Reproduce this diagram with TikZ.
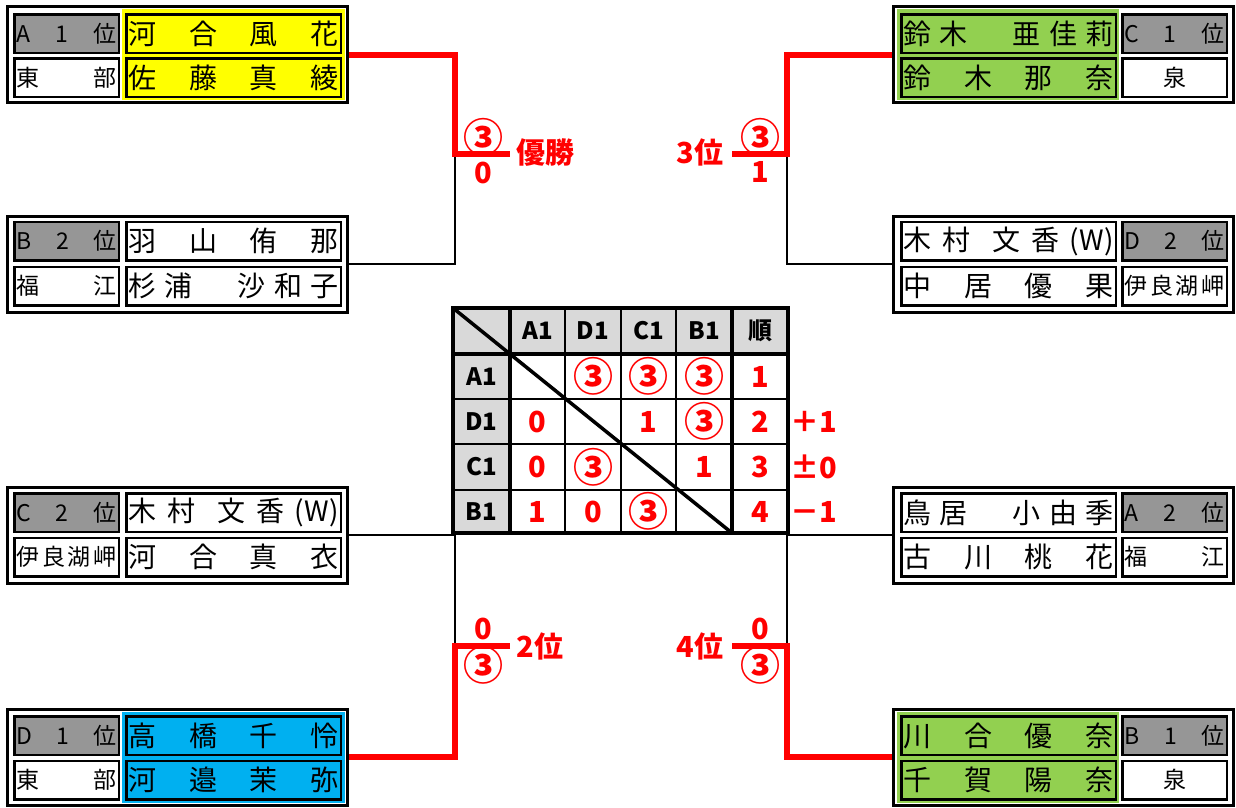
\documentclass[tikz,border=0pt]{standalone}
\usepackage{fontspec}
\setmainfont{Noto Sans CJK JP}
\usepackage{tikz}

\definecolor{rankgray}{HTML}{969696}
\definecolor{hdrgray}{HTML}{D9D9D9}
\definecolor{clubyellow}{HTML}{FFFF00}
\definecolor{clubgreen}{HTML}{92D050}
\definecolor{clubblue}{HTML}{00B0F0}
\definecolor{scorered}{HTML}{FF0000}

\newcommand{\namesize}{\fontsize{28}{28}\selectfont}
\newcommand{\ranksize}{\fontsize{23}{23}\selectfont}
\newcommand{\scoresize}{\fontsize{29}{29}\selectfont\bfseries}
\newcommand{\hdrsize}{\fontsize{24}{24}\selectfont\bfseries}
\newcommand{\cthree}{{\fontsize{40}{40}\selectfont ③}}
\newcommand{\spreadname}[1]{\hbox to 210pt{#1}}
\newcommand{\spreadrank}[1]{\hbox to 100pt{#1}}

\tikzset{
  boxframe/.style={draw, line width=3pt, fill=white, minimum width=340pt, minimum height=96pt, inner sep=0pt},
  pcell/.style={draw, line width=2.5pt, minimum height=38.5pt, inner sep=0pt},
  rankcell/.style={pcell, minimum width=104.5pt, font=\ranksize},
  namecell/.style={pcell, minimum width=214.5pt, font=\namesize},
  win/.style={draw=scorered, line width=6pt},
  lose/.style={draw, line width=2pt},
  score/.style={text=scorered, font=\scoresize, inner sep=0pt},
  hdr/.style={font=\hdrsize, inner sep=0pt},
  tblline/.style={line width=2.5pt},
  tblheavy/.style={line width=3.5pt}
}

\begin{document}
\begin{tikzpicture}[x=1pt,y=-1pt]
\useasboundingbox (0,0) rectangle (1236,807);

% left side
\node[boxframe] (a1) at (177,54.5) {};
\fill[clubyellow] (122,9) rectangle (345,100);
\node[rankcell, fill=rankgray] (a1r) at (66.5,33.5) {\spreadrank{A\hfill 1\hfill 位}};
\node[rankcell] (a1h) at (66.5,77.5) {\spreadrank{東\hfill 部}};
\node[namecell, fill=clubyellow] (a1p) at (233.5,33.5) {\spreadname{河\hfill 合\hfill 風\hfill 花}};
\node[namecell, fill=clubyellow] (a1q) at (233.5,77.5) {\spreadname{佐\hfill 藤\hfill 真\hfill 綾}};

\node[boxframe] (b2) at (177,264) {};
\node[rankcell, fill=rankgray] (b2r) at (66.5,241) {\spreadrank{B\hfill 2\hfill 位}};
\node[rankcell] (b2h) at (66.5,286) {\spreadrank{福\hfill 江}};
\node[namecell] (b2p) at (233.5,241) {\spreadname{羽\hfill 山\hfill 侑\hfill 那}};
\node[namecell] (b2q) at (233.5,286) {\spreadname{杉\hfill 浦\hfill 　\hfill 沙\hfill 和\hfill 子}};

\node[boxframe] (c2) at (177,535) {};
\node[rankcell, fill=rankgray] (c2r) at (66.5,512.5) {\spreadrank{C\hfill 2\hfill 位}};
\node[rankcell] (c2h) at (66.5,557) {\spreadrank{伊\hfill 良\hfill 湖\hfill 岬}};
\node[namecell] (c2p) at (233.5,512.5) {\spreadname{木\hfill 村\hfill\hfill 文\hfill 香\hfill(W)}};
\node[namecell] (c2q) at (233.5,557) {\spreadname{河\hfill 合\hfill 真\hfill 衣}};

\node[boxframe] (d1) at (177,757) {};
\fill[clubblue] (122,712) rectangle (345,803);
\node[rankcell, fill=rankgray] (d1r) at (66.5,735.5) {\spreadrank{D\hfill 1\hfill 位}};
\node[rankcell] (d1h) at (66.5,780) {\spreadrank{東\hfill 部}};
\node[namecell, fill=clubblue] (d1p) at (233.5,735.5) {\spreadname{高\hfill 橋\hfill 千\hfill 怜}};
\node[namecell, fill=clubblue] (d1q) at (233.5,780) {\spreadname{河\hfill 邉\hfill 茉\hfill 弥}};

% right side
\node[boxframe] (c1) at (1063,54.5) {};
\fill[clubgreen] (897,9) rectangle (1119,100);
\node[namecell, fill=clubgreen] (c1p) at (1008.5,33.5) {\spreadname{鈴\hfill 木\hfill 　\hfill 亜\hfill 佳\hfill 莉}};
\node[namecell, fill=clubgreen] (c1q) at (1008.5,77.5) {\spreadname{鈴\hfill 木\hfill 那\hfill 奈}};
\node[rankcell, fill=rankgray] (c1r) at (1174.5,33.5) {\spreadrank{C\hfill 1\hfill 位}};
\node[rankcell] (c1h) at (1174.5,77.5) {泉};

\node[boxframe] (d2) at (1063,264) {};
\node[namecell] (d2p) at (1008.5,241) {\spreadname{木\hfill 村\hfill\hfill 文\hfill 香\hfill(W)}};
\node[namecell] (d2q) at (1008.5,286) {\spreadname{中\hfill 居\hfill 優\hfill 果}};
\node[rankcell, fill=rankgray] (d2r) at (1174.5,241) {\spreadrank{D\hfill 2\hfill 位}};
\node[rankcell] (d2h) at (1174.5,286) {\spreadrank{伊\hfill 良\hfill 湖\hfill 岬}};

\node[boxframe] (a2) at (1063,535) {};
\node[namecell] (a2p) at (1008.5,512.5) {\spreadname{鳥\hfill 居\hfill 　\hfill 小\hfill 由\hfill 季}};
\node[namecell] (a2q) at (1008.5,557) {\spreadname{古\hfill 川\hfill 桃\hfill 花}};
\node[rankcell, fill=rankgray] (a2r) at (1174.5,512.5) {\spreadrank{A\hfill 2\hfill 位}};
\node[rankcell] (a2h) at (1174.5,557) {\spreadrank{福\hfill 江}};

\node[boxframe] (b1) at (1063,757) {};
\fill[clubgreen] (897,712) rectangle (1119,803);
\node[namecell, fill=clubgreen] (b1p) at (1008.5,735.5) {\spreadname{川\hfill 合\hfill 優\hfill 奈}};
\node[namecell, fill=clubgreen] (b1q) at (1008.5,780) {\spreadname{千\hfill 賀\hfill 陽\hfill 奈}};
\node[rankcell, fill=rankgray] (b1r) at (1174.5,735.5) {\spreadrank{B\hfill 1\hfill 位}};
\node[rankcell] (b1h) at (1174.5,780) {泉};

% bracket
\coordinate (fin1) at (455,154);
\coordinate (fin1e) at (510,154);
\coordinate (fin2) at (787,154);
\coordinate (fin2e) at (732,154);
\coordinate (sf1) at (455,646);
\coordinate (sf1e) at (510,646);
\coordinate (sf2) at (787,646);
\coordinate (sf2e) at (732,646);

\draw[lose] (fin1) |- (b2.east);
\draw[lose] (fin2) |- (d2.west);
\draw[lose] (c2.east) -| (sf1);
\draw[lose] (a2.west) -| (sf2);
\draw[win] (a1.east) -| (fin1) -- (fin1e);
\draw[win] (c1.west) -| (fin2) -- (fin2e);
\draw[win] (sf1e) -- (sf1) |- (d1.east);
\draw[win] (sf2e) -- (sf2) |- (b1.west);

\node[score] (f1w) at (483,137) {\cthree};
\node[score] (f1l) at (483,173) {0};
\node[score] (f1t) at (545,153) {優勝};
\node[score] (f2w) at (760,137) {\cthree};
\node[score] (f2l) at (760,172) {1};
\node[score] (f2t) at (700,152) {3位};
\node[score] (s1l) at (483,629) {0};
\node[score] (s1w) at (483,665) {\cthree};
\node[score] (s1t) at (540,646) {2位};
\node[score] (s2l) at (760,629) {0};
\node[score] (s2w) at (760,665) {\cthree};
\node[score] (s2t) at (700,646) {4位};

% league table
\fill[white] (453,308) rectangle (788,533);
\fill[hdrgray] (453,308) rectangle (788,354);
\fill[hdrgray] (453,354) rectangle (510,533);
\draw[tblline] (565,308) -- (565,533) (621,308) -- (621,533) (676,308) -- (676,533);
\draw[tblline] (453,399) -- (788,399) (453,444) -- (788,444) (453,490) -- (788,490);
\draw[tblheavy] (510,308) -- (510,533) (732,308) -- (732,533) (453,354) -- (788,354);
\draw[tblheavy] (453,308) -- (510,354);
\draw[tblheavy] (510,354) -- (732,533);
\draw[tblheavy] (453,308) rectangle (788,533);

\node[hdr] (hA) at (537.5,331) {A1};
\node[hdr] (hD) at (593,331) {D1};
\node[hdr] (hC) at (648.5,331) {C1};
\node[hdr] (hB) at (704,331) {B1};
\node[hdr] (hR) at (760,331) {順};
\node[hdr] (rA) at (481.5,376.5) {A1};
\node[hdr] (rD) at (481.5,421.5) {D1};
\node[hdr] (rC) at (481.5,467) {C1};
\node[hdr] (rB) at (481.5,511.5) {B1};

\node[score] (sAD) at (593,376.5) {\cthree};
\node[score] (sAC) at (648.5,376.5) {\cthree};
\node[score] (sAB) at (704,376.5) {\cthree};
\node[score] (pA) at (760,376.5) {1};
\node[score] (sDA) at (537.5,421.5) {0};
\node[score] (sDC) at (648.5,421.5) {1};
\node[score] (sDB) at (704,421.5) {\cthree};
\node[score] (pD) at (760,421.5) {2};
\node[score] (gD) at (814,421.5) {＋1};
\node[score] (sCA) at (537.5,467) {0};
\node[score] (sCD) at (593,467) {\cthree};
\node[score] (sCB) at (704,467) {1};
\node[score] (pC) at (760,467) {3};
\node[score] (gC) at (814,467) {±0};
\node[score] (sBA) at (537.5,511.5) {1};
\node[score] (sBD) at (593,511.5) {0};
\node[score] (sBC) at (648.5,511.5) {\cthree};
\node[score] (pB) at (760,511.5) {4};
\node[score] (gB) at (814,511.5) {－1};
\end{tikzpicture}
\end{document}
